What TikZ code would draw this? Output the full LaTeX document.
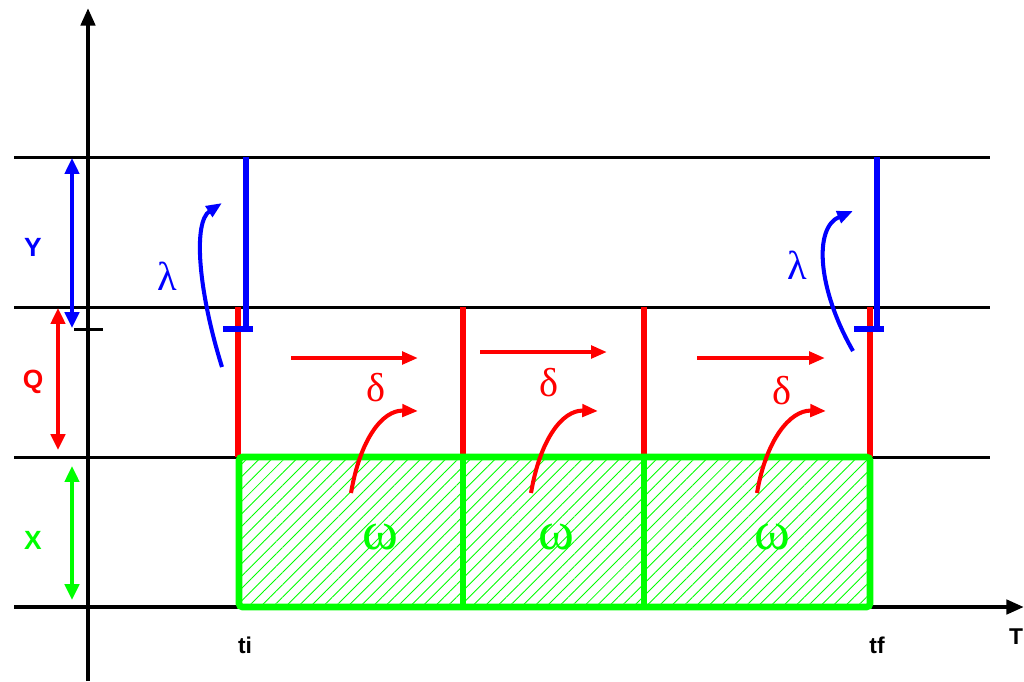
\documentclass[tikz,border=0pt]{standalone}
\usepackage{fontspec}
\setmainfont{Liberation Serif}
\setsansfont{Liberation Sans}
\usetikzlibrary{arrows.meta}
\usetikzlibrary{patterns.meta}
\definecolor{vgreen}{RGB}{0,255,0}
\definecolor{vred}{RGB}{255,0,0}
\definecolor{vblue}{RGB}{0,0,255}

\begin{document}
\begin{tikzpicture}[x=0.02cm,y=-0.02cm,
  levelline/.style={line width=1.7pt},
  axisline/.style={line width=2.4pt,-{Triangle[length=10pt,width=8pt]}},
  spanarrow/.style={line width=2.2pt,{Triangle[length=9pt,width=8pt]}-{Triangle[length=9pt,width=8pt]}},
  flow/.style={line width=2.3pt,-{Triangle[length=9pt,width=7pt]}},
  bar/.style={line width=3.4pt},
  cell/.style={line width=3.8pt,draw=vgreen,rounded corners=2pt},
  axlabel/.style={font=\sffamily\bfseries\fontsize{15}{15}\selectfont},
  tlabel/.style={font=\sffamily\bfseries\fontsize{13}{13}\selectfont},
  greek/.style={font=\fontsize{23}{23}\selectfont},
  omega/.style={font=\fontsize{31}{31}\selectfont,text=vgreen}]
  \useasboundingbox (0,0) rectangle (1024,681);

  % Levels
  \draw[levelline] (14,157) -- (990,157);
  \draw[levelline] (14,307) -- (990,307);
  \draw[levelline] (14,457) -- (990,457);

  % Axes
  \coordinate (o1) at (14,607);
  \coordinate (tend) at (1024,607);
  \coordinate (v1) at (88,681);
  \coordinate (vend) at (88,8);
  \draw[axisline] (o1) -- (tend);
  \draw[axisline] (v1) -- (vend);
  \draw[levelline] (74,329) -- (103,329);

  % Ranges on the left
  \coordinate (ya) at (72,158); \coordinate (yb) at (72,328);
  \coordinate (qa) at (58,308); \coordinate (qb) at (58,450);
  \coordinate (xa) at (72,466); \coordinate (xb) at (72,600);
  \draw[spanarrow,vblue] (ya) -- (yb);
  \draw[spanarrow,vred] (qa) -- (qb);
  \draw[spanarrow,vgreen] (xa) -- (xb);
  \node[axlabel,text=vblue] (ylab) at (33,247) {Y};
  \node[axlabel,text=vred] (qlab) at (33,382) {Q};
  \node[axlabel,text=vgreen] (xlab) at (33,540) {X};

  % Hatched cells
  \fill[pattern={Lines[angle=45,distance=5pt,line width=0.5pt]},pattern color=vgreen]
    (239,457) rectangle (870,607);

  % Red bars
  \foreach \xx in {238,463,644,870}
    \draw[bar,vred] (\xx,307) -- (\xx,457);

  % Blue bars
  \foreach \xx in {246,877} {
    \draw[bar,vblue] (\xx,157) -- (\xx,329);
    \draw[bar,vblue] (\xx-23,329) -- (\xx+7,329);
  }

  \draw[cell] (239,457) rectangle (870,607);
  \draw[cell] (463,457) -- (463,607);
  \draw[cell] (644,457) -- (644,607);

  % Transfers
  \coordinate (d1a) at (291,358); \coordinate (d1b) at (418,358);
  \coordinate (d2a) at (480,352); \coordinate (d2b) at (607,352);
  \coordinate (d3a) at (697,358); \coordinate (d3b) at (825,358);
  \draw[flow,vred] (d1a) -- (d1b);
  \draw[flow,vred] (d2a) -- (d2b);
  \draw[flow,vred] (d3a) -- (d3b);

  \coordinate (w1a) at (351,493); \coordinate (w1b) at (418,411);
  \coordinate (w2a) at (531,493); \coordinate (w2b) at (598,411);
  \coordinate (w3a) at (757,493); \coordinate (w3b) at (826,411);
  \draw[flow,vred] (w1a) .. controls (360,440) and (382,410) .. (w1b);
  \draw[flow,vred] (w2a) .. controls (540,440) and (562,410) .. (w2b);
  \draw[flow,vred] (w3a) .. controls (766,440) and (790,410) .. (w3b);

  \coordinate (l1a) at (222,367); \coordinate (l1b) at (222,203);
  \coordinate (l2a) at (853,351); \coordinate (l2b) at (853,211);
  \draw[flow,vblue] (l1a) .. controls (198,290) and (193,222) .. (l1b);
  \draw[flow,vblue] (l2a) .. controls (818,290) and (813,228) .. (l2b);

  % Labels
  \node[greek,text=vred] (dl1) at (376,388) {δ};
  \node[greek,text=vred] (dl2) at (549,383) {δ};
  \node[greek,text=vred] (dl3) at (782,391) {δ};
  \node[greek,text=vblue] (ll1) at (167,276) {λ};
  \node[greek,text=vblue] (ll2) at (797,265) {λ};
  \node[omega] (om1) at (380,537) {ω};
  \node[omega] (om2) at (556,537) {ω};
  \node[omega] (om3) at (772,537) {ω};

  \node[tlabel] (ti) at (245,645) {ti};
  \node[tlabel] (tf) at (877,645) {tf};
  \node[tlabel] (tt) at (1016,637) {T};
\end{tikzpicture}
\end{document}
